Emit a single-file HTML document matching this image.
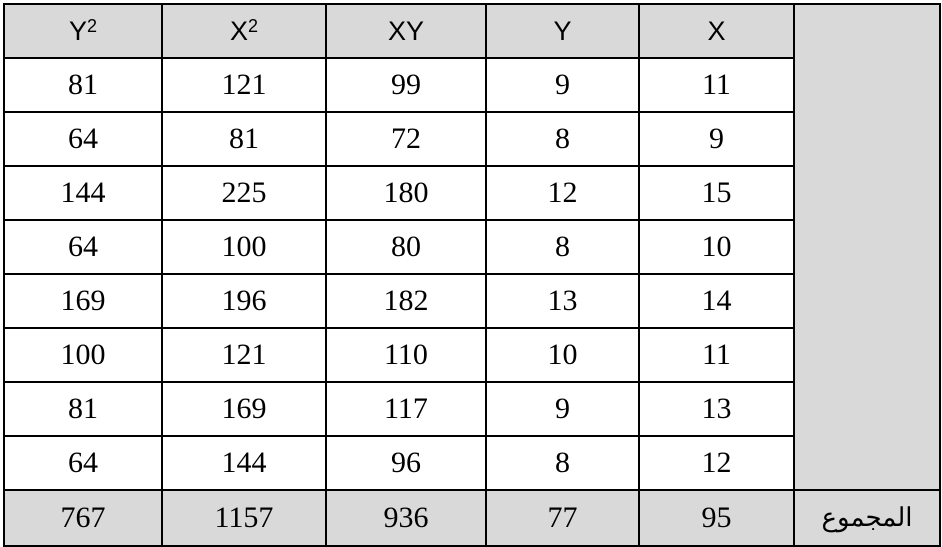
<!DOCTYPE html>
<html><head><meta charset="utf-8"><style>
body{margin:0;width:942px;height:547px;background:#fff;position:relative;overflow:hidden}
.c{position:absolute;box-sizing:border-box;border:2px solid #000;display:flex;align-items:center;justify-content:center;font-family:"Liberation Serif",serif;font-size:30px;color:#000}
.h{background:#d9d9d9;font-family:"Liberation Sans",sans-serif;font-size:27px}
.g{background:#d9d9d9}
sup{font-size:18px;position:relative;top:-5px}
</style></head><body>
<div id="t"></div>
<script>
const headers=['Y<sup>2</sup>','X<sup>2</sup>','XY','Y','X'];
const colY2=[81,64,144,64,169,100,81,64];
const colX2=[121,81,225,100,196,121,169,144];
const colXY=[99,72,180,80,182,110,117,96];
const colY=[9,8,12,8,13,10,9,8];
const colX=[11,9,15,10,14,11,13,12];
const totals=[767,1157,936,77,95];
const names=['y-squared','x-squared','xy','y','x'];
const cols=[colY2,colX2,colXY,colY,colX];
const xs=[3,161,325,485,638,793,939];
const ys=[3,57,111,165,219,273,327,381,435,489,545];
function cell(x0,x1,y0,y1,html,cls,name){
  const d=document.createElement('div');
  d.className='c '+cls;
  d.style.left=x0+'px';d.style.top=y0+'px';
  d.style.width=(x1-x0+2)+'px';d.style.height=(y1-y0+2)+'px';
  d.innerHTML=html;
  
  
  document.body.appendChild(d);
}
for(let c=0;c<5;c++){
  cell(xs[c],xs[c+1],ys[0],ys[1],headers[c],'h','header-'+names[c]);
  for(let r=0;r<8;r++) cell(xs[c],xs[c+1],ys[r+1],ys[r+2],String(cols[c][r]),'','cell-'+names[c]+'-'+(r+1));
  cell(xs[c],xs[c+1],ys[9],ys[10],String(totals[c]),'g','total-'+names[c]);
}
cell(xs[5],xs[6],ys[0],ys[9],'','g','label-column-blank');
const lab=document.createElement('div');
lab.className='c g';
lab.style.left=xs[5]+'px';lab.style.top=ys[9]+'px';
lab.style.width=(xs[6]-xs[5]+2)+'px';lab.style.height=(ys[10]-ys[9]+2)+'px';
lab.style.fontFamily='"Liberation Serif","DejaVu Serif",serif';lab.style.fontSize='26px';
lab.textContent='المجموع';


document.body.appendChild(lab);
</script>
</body></html>
